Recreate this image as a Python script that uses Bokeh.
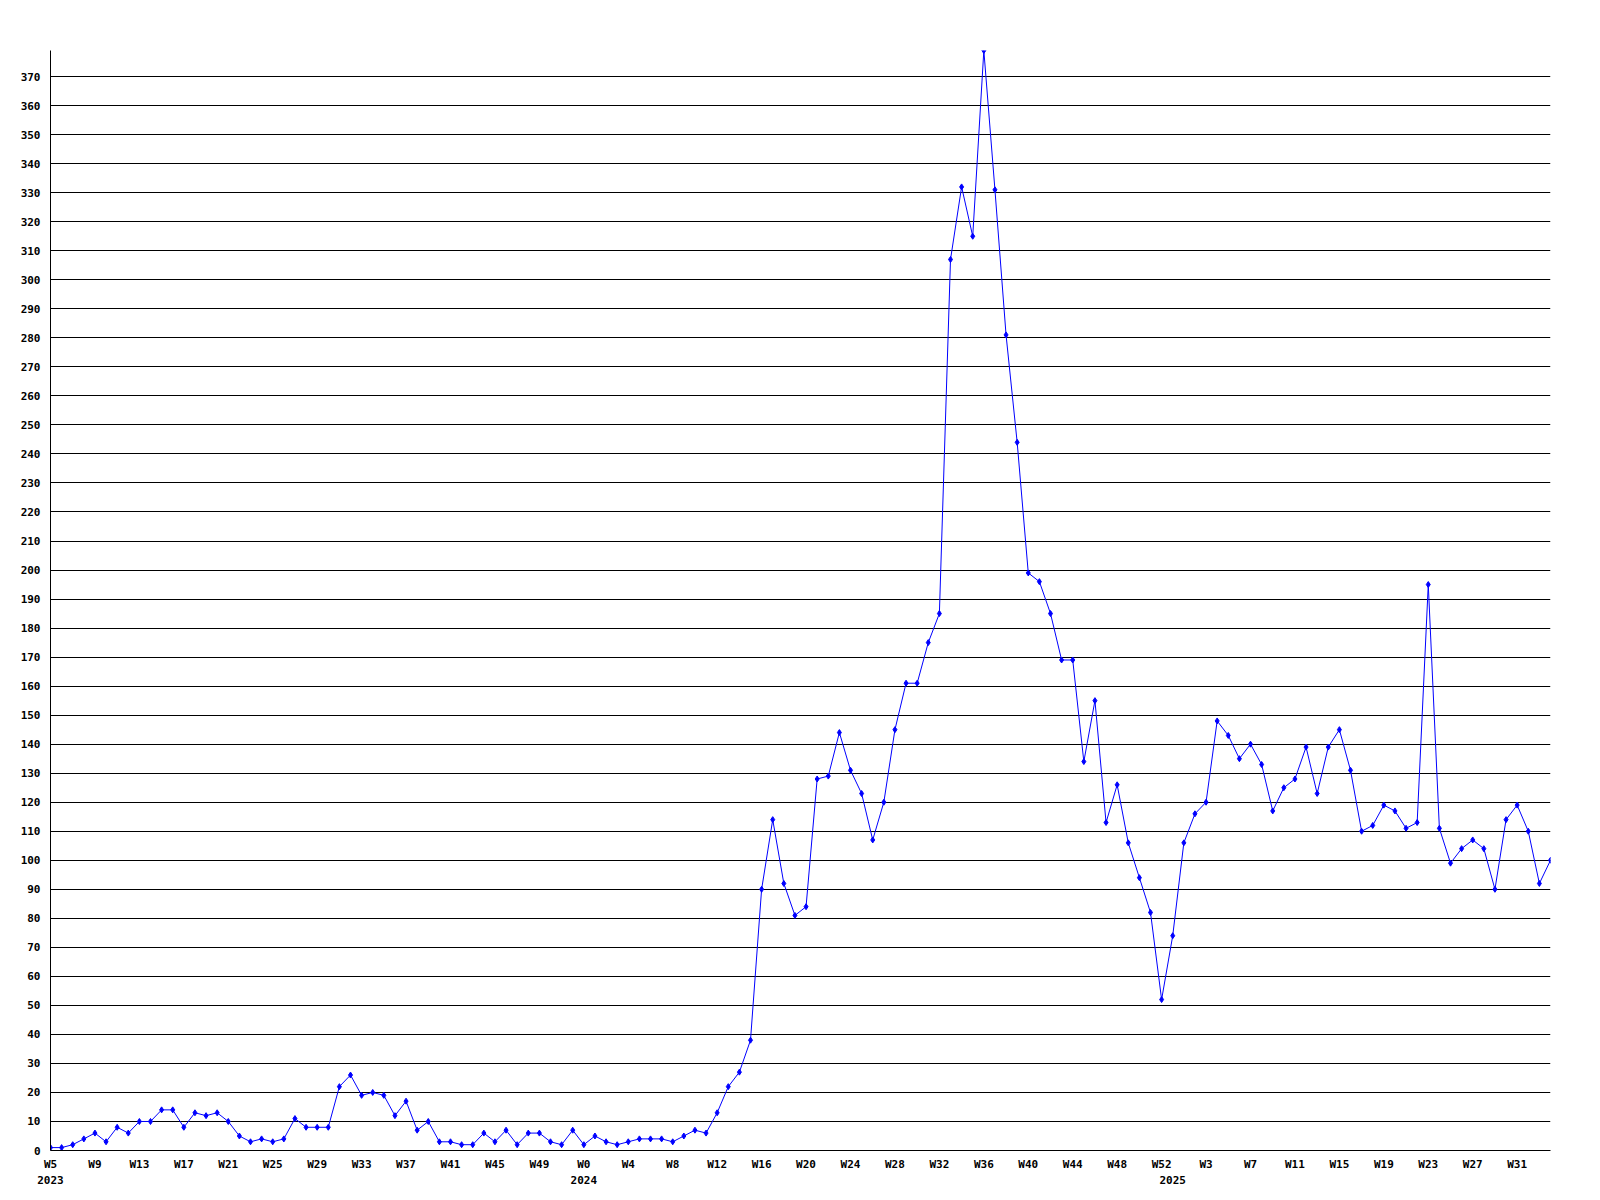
from bokeh.plotting import figure
from bokeh.models import (ColumnDataSource, Range1d, LinearAxis, FixedTicker, Grid)
from bokeh.embed import file_html
from bokeh.resources import INLINE

# ---- data -------------------------------------------------------------
years = [2023] * 48 + [2024] * 53 + [2025] * 35
weeks = list(range(5, 53)) + list(range(0, 53)) + list(range(0, 35))

values = [
    # 2023 W5..W52
    1, 1, 2, 4, 6, 3, 8, 6, 10, 10, 14, 14, 8, 13, 12, 13, 10, 5, 3, 4,
    3, 4, 11, 8, 8, 8, 22, 26, 19, 20, 19, 12, 17, 7, 10, 3, 3, 2, 2, 6,
    3, 7, 2, 6, 6, 3, 2, 7,
    # 2024 W0..W52
    2, 5, 3, 2, 3, 4, 4, 4, 3, 5, 7, 6, 13, 22, 27, 38, 90, 114, 92, 81,
    84, 128, 129, 144, 131, 123, 107, 120, 145, 161, 161, 175, 185, 307, 332, 315, 379, 331, 281, 244,
    199, 196, 185, 169, 169, 134, 155, 113, 126, 106, 94, 82, 52,
    # 2025 W0..W34
    74, 106, 116, 120, 148, 143, 135, 140, 133, 117, 125, 128, 139, 123, 139, 145, 131, 110, 112, 119,
    117, 111, 113, 195, 111, 99, 104, 107, 104, 90, 114, 119, 110, 92, 100,
]

x_tick_labels = [
    "W5", "W9", "W13", "W17", "W21", "W25", "W29", "W33", "W37", "W41", "W45", "W49",
    "W0", "W4", "W8", "W12", "W16", "W20", "W24", "W28", "W32", "W36", "W40", "W44", "W48", "W52",
    "W3", "W7", "W11", "W15", "W19", "W23", "W27", "W31",
]
year_labels = ["2023", "2024", "2025"]
y_ticks = list(range(0, 371, 10))

# ---- derived positions ------------------------------------------------
idx = list(range(len(values)))
x_tick_pos = idx[::4][:len(x_tick_labels)]
year_pos = [i for i in idx if i == 0 or years[i] != years[i - 1]]

FONT = "DejaVu Sans Mono"

p = figure(
    frame_width=1500, frame_height=1100,
    x_range=Range1d(0, len(values) - 1), y_range=Range1d(0, max(values)),
    x_axis_type=None, y_axis_type=None,
    output_backend="svg", toolbar_location=None,
    min_border_left=50, min_border_right=42, min_border_top=50, min_border_bottom=42,
    background_fill_color="white", border_fill_color="white",
)
p.outline_line_color = None

# grid
grid = Grid(dimension=1, ticker=FixedTicker(ticks=y_ticks),
            grid_line_color="black", grid_line_width=1)
p.add_layout(grid)

# week axis
xa = LinearAxis(ticker=FixedTicker(ticks=x_tick_pos))
xa.major_label_overrides = {pos: lab for pos, lab in zip(x_tick_pos, x_tick_labels)}
xa.axis_line_color = "black"
xa.major_tick_line_color = None
xa.minor_tick_line_color = None
xa.major_tick_out = 0
xa.major_tick_in = 0
xa.major_label_standoff = 7
xa.major_label_text_font = FONT
xa.major_label_text_font_style = "bold"
xa.major_label_text_font_size = "11px"
xa.major_label_text_color = "black"
p.add_layout(xa, "below")

# year axis
ya2 = LinearAxis(ticker=FixedTicker(ticks=year_pos))
ya2.major_label_overrides = {pos: lab for pos, lab in zip(year_pos, year_labels)}
ya2.axis_line_color = None
ya2.major_tick_line_color = None
ya2.minor_tick_line_color = None
ya2.major_tick_out = 0
ya2.major_tick_in = 0
ya2.major_label_standoff = 2
ya2.major_label_text_font = FONT
ya2.major_label_text_font_style = "bold"
ya2.major_label_text_font_size = "11px"
ya2.major_label_text_color = "black"
p.add_layout(ya2, "below")

# y axis
yax = LinearAxis(ticker=FixedTicker(ticks=y_ticks))
yax.axis_line_color = "black"
yax.major_tick_line_color = None
yax.minor_tick_line_color = None
yax.major_tick_out = 0
yax.major_tick_in = 0
yax.major_label_standoff = 10
yax.major_label_text_font = FONT
yax.major_label_text_font_style = "bold"
yax.major_label_text_font_size = "11px"
yax.major_label_text_color = "black"
p.add_layout(yax, "left")

src = ColumnDataSource(dict(x=idx, y=values))
p.line("x", "y", source=src, line_color="#0000FF", line_width=1)
p.scatter("x", "y", source=src, marker="diamond", size=6,
          fill_color="#0000FF", line_color="#0000FF", line_width=1)

html = file_html(p, INLINE)
open("out.html", "w").write(html)
